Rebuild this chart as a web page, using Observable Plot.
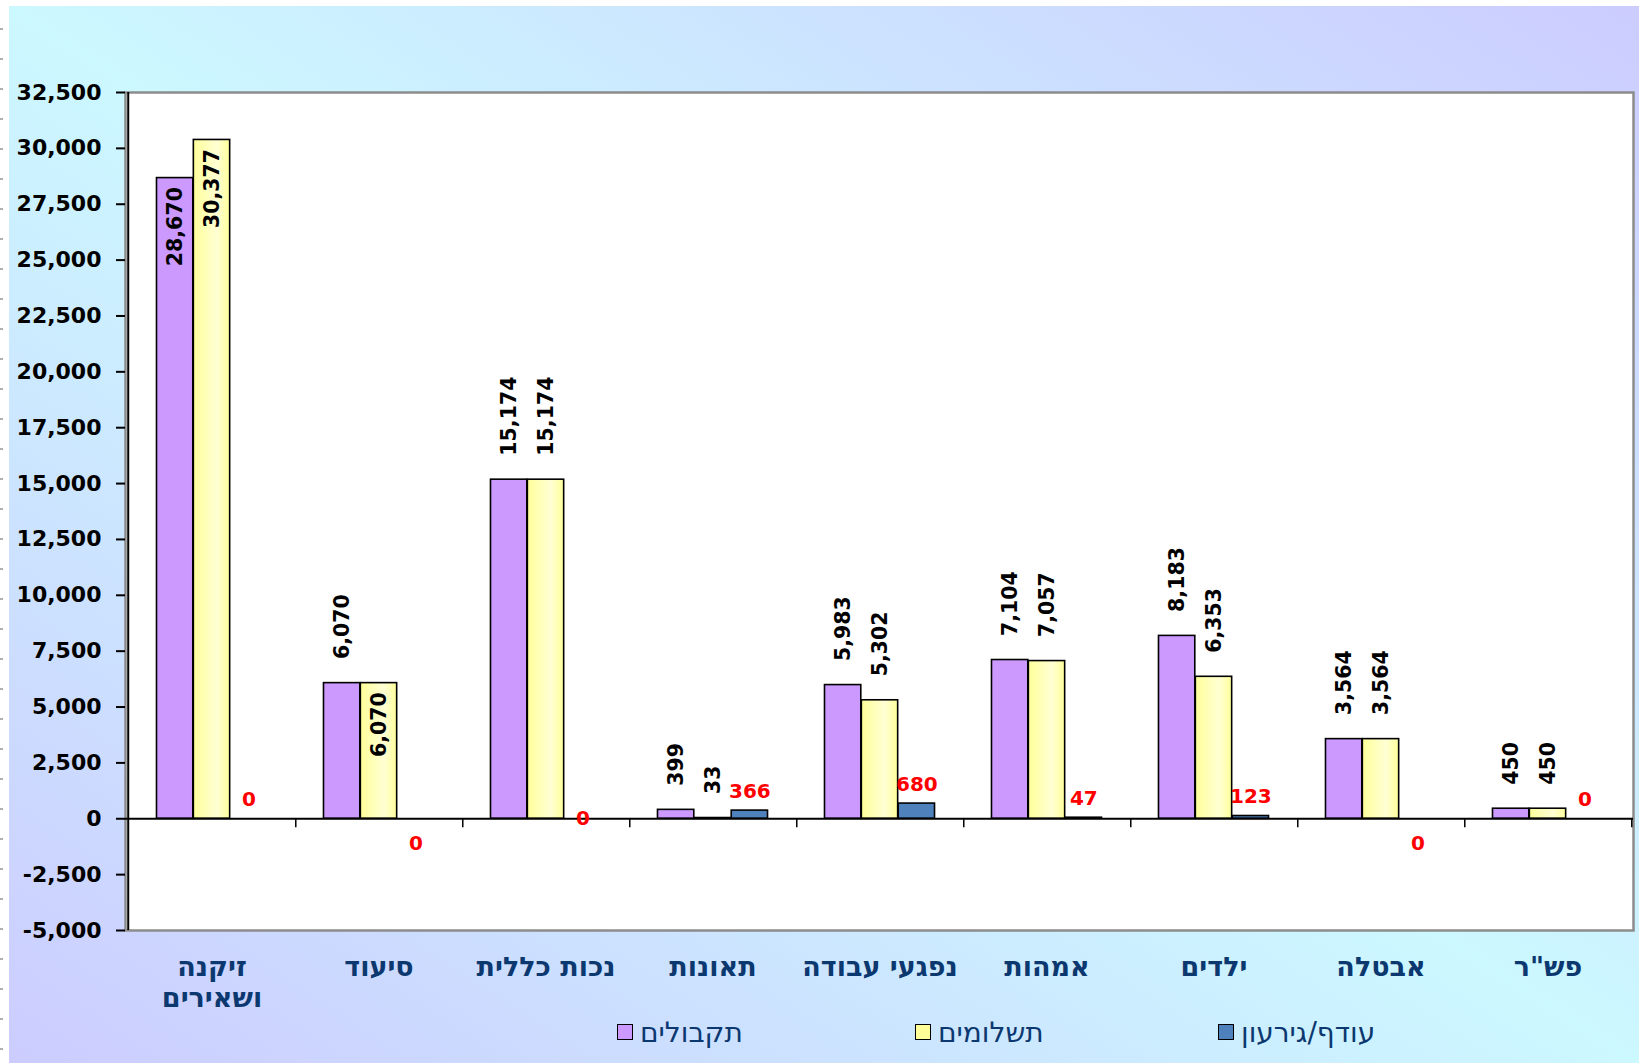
<!DOCTYPE html>
<html>
<head>
<meta charset="utf-8">
<script src="https://cdn.jsdelivr.net/npm/d3@7"></script>
<script src="https://cdn.jsdelivr.net/npm/@observablehq/plot@0.6"></script>
<style>
  html, body { margin: 0; padding: 0; background: #ffffff; width: 1639px; height: 1063px; overflow: hidden; }
  #page { position: absolute; left: 9px; top: 6px; width: 1630px; height: 1057px;
          background: linear-gradient(to top right, #ccccff 0%, #ccf8ff 50%, #ccccff 100%); }
  #ruler { position: absolute; left: 0; top: 0; width: 3px; height: 1063px;
           background: repeating-linear-gradient(to bottom, transparent 0 28px, #b0b0b0 28px 30px); }
  #legend { position: absolute; left: 0; top: 1003px; height: 46px; display: flex; align-items: center;
            padding-left: 608px; font-family: "DejaVu Sans", sans-serif; font-size: 28px; color: #0c3870; }
  .item { display: flex; align-items: center; }
  .sw { width: 14px; height: 14px; border: 1.5px solid #000; margin-right: 7px; }
</style>
</head>
<body>
<div id="ruler"></div>
<div id="page">
  <div id="chart"></div>
  <div id="legend"></div>
</div>
<script>
// ---- data ----
const categories = ["זיקנה ושאירים", "סיעוד", "נכות כללית", "תאונות", "נפגעי עבודה", "אמהות", "ילדים", "אבטלה", "פש\"ר"];
const receipts = [28670, 6070, 15174, 399, 5983, 7104, 8183, 3564, 450];
const payments = [30377, 6070, 15174, 33, 5302, 7057, 6353, 3564, 450];
const balance  = [0, 0, 0, 366, 680, 47, 123, 0, 0];
const seriesNames = ["תקבולים", "תשלומים", "עודף/גירעון"];
const yTicks = [-5000, -2500, 0, 2500, 5000, 7500, 10000, 12500, 15000, 17500, 20000, 22500, 25000, 27500, 30000, 32500];

// label placement config
const insideLabels = new Set(["0:receipts", "0:payments", "1:payments"]);
const balanceBelow = new Set([1, 7]);
const balanceOnAxis = new Set([2]);

// ---- layout ----
const W = 1630, H = 1005;
const mL = 116, mR = 6, mT = 86, mB = H - 924;
const bw = (W - mL - mR) / categories.length;
const barW = bw * 0.22;
const pad = (bw - 3 * barW) / 2;

const colors = ["#CC99FF", "url(#yellowGrad)", "#4F81BD"];
const swatchColors = ["#CC99FF", "#FFFF99", "#4F81BD"];

const fmt = v => d3.format(",")(v).replace("\u2212", "-");
const wrap = d => d.length > 12 ? d.replace(" ", "\n") : d;

const rows = categories.map((c, i) => ({i, cat: c, receipts: receipts[i], payments: payments[i], balance: balance[i]}));

const keys = ["receipts", "payments", "balance"];
const barMarks = keys.map((k, s) => Plot.barY(rows, {
  x: "cat", y: k,
  fill: colors[s], stroke: "black", strokeWidth: 1.6,
  insetLeft: pad + s * barW, insetRight: pad + (2 - s) * barW
}));

const labelMarks = [];
["receipts", "payments"].forEach((k, s) => {
  [true, false].forEach(inside => {
    const data = rows.filter(r => insideLabels.has(`${r.i}:${k}`) === inside);
    labelMarks.push(Plot.text(data, {
      x: "cat", y: k, text: d => fmt(d[k]), rotate: -90,
      textAnchor: inside ? "end" : "start",
      dx: (s - 1) * barW, dy: inside ? 9 : -24,
      fontSize: 20.5, fontWeight: "bold", fill: "black"
    }));
  });
});

const redBase = {x: "cat", y: d => Math.max(d.balance, 0), text: d => fmt(d.balance), dx: barW,
                 fontSize: 20, fontWeight: "bold", fill: "#FF0000"};
labelMarks.push(Plot.text(rows.filter(r => !balanceBelow.has(r.i) && !balanceOnAxis.has(r.i)), {...redBase, dy: -19}));
labelMarks.push(Plot.text(rows.filter(r => balanceBelow.has(r.i)), {...redBase, dy: 25}));
labelMarks.push(Plot.text(rows.filter(r => balanceOnAxis.has(r.i)), {...redBase, dy: 0}));

const chart = Plot.plot({
  width: W, height: H,
  marginLeft: mL, marginRight: mR, marginTop: mT, marginBottom: mB,
  style: {fontFamily: "DejaVu Sans, sans-serif", fontSize: "20px", background: "transparent", overflow: "visible", color: "black"},
  x: {type: "band", domain: categories, padding: 0},
  y: {domain: [yTicks[0], yTicks[yTicks.length - 1]], nice: false},
  marks: [
    Plot.frame({fill: "white", stroke: "#8c8c8c", strokeWidth: 2.5}),
    ...barMarks,
    Plot.ruleY([0], {stroke: "black", strokeWidth: 2}),
    Plot.ruleX([categories[0]], {x: d => d, y1: yTicks[0], y2: yTicks[yTicks.length - 1], dx: -bw / 2, stroke: "black", strokeWidth: 2}),
    Plot.ruleX(categories, {x: d => d, y1: 0, y2: 0, insetBottom: -9, dx: bw / 2, stroke: "black", strokeWidth: 1.5}),
    Plot.axisY({ticks: yTicks, tickFormat: fmt, tickSize: 9, tickPadding: 15, fontSize: 22, fontWeight: "bold", strokeWidth: 2, color: "black", label: null}),
    Plot.axisX({anchor: "bottom", tickSize: 0, tickPadding: 23, fontSize: 27, fontWeight: "bold", color: "#0c3870", tickFormat: wrap, lineHeight: 1.15, label: null}),
    ...labelMarks
  ]
});

const svg = chart.tagName.toLowerCase() === "svg" ? chart : chart.querySelector("svg");
svg.insertAdjacentHTML("afterbegin",
  '<defs><linearGradient id="yellowGrad" x1="0" x2="1" y1="0" y2="0">' +
  '<stop offset="0" stop-color="#FFFF99"/><stop offset="0.65" stop-color="#FFFFD4"/><stop offset="1" stop-color="#FFFF99"/>' +
  '</linearGradient></defs>');
document.getElementById("chart").appendChild(chart);

// legend
const widths = [298, 303, null];
const legend = document.getElementById("legend");
seriesNames.forEach((name, s) => {
  const item = document.createElement("div");
  item.className = "item";
  if (widths[s]) item.style.width = widths[s] + "px";
  const sw = document.createElement("span");
  sw.className = "sw";
  sw.style.background = swatchColors[s];
  const t = document.createElement("span");
  t.textContent = name;
  item.appendChild(sw); item.appendChild(t);
  legend.appendChild(item);
});
</script>
</body>
</html>
